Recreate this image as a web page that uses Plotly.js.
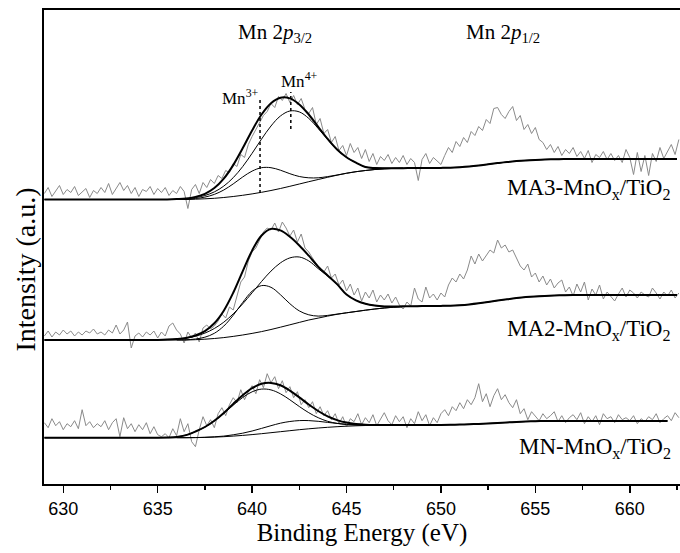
<!DOCTYPE html>
<html>
<head>
<meta charset="utf-8">
<script src="https://cdn.plot.ly/plotly-3.0.1.min.js"></script>
<style>html,body{margin:0;padding:0;background:#fff;}#chart{width:680px;height:553px;}</style>
</head>
<body>
<div id="chart"></div>
<script>
// Binding energy grid of the measured spectra (eV)
const rawE = [
629.0,629.2,629.4,629.6,629.8, 630.0,630.2,630.4,630.6,630.8,
631.0,631.2,631.4,631.6,631.8, 632.0,632.2,632.4,632.6,632.8,
633.0,633.2,633.4,633.6,633.8, 634.0,634.2,634.4,634.6,634.8,
635.0,635.2,635.4,635.6,635.8, 636.0,636.2,636.4,636.6,636.8,
637.0,637.2,637.4,637.6,637.8, 638.0,638.2,638.4,638.6,638.8,
639.0,639.2,639.4,639.6,639.8, 640.0,640.2,640.4,640.6,640.8,
641.0,641.2,641.4,641.6,641.8, 642.0,642.2,642.4,642.6,642.8,
643.0,643.2,643.4,643.6,643.8, 644.0,644.2,644.4,644.6,644.8,
645.0,645.2,645.4,645.6,645.8, 646.0,646.2,646.4,646.6,646.8,
647.0,647.2,647.4,647.6,647.8, 648.0,648.2,648.4,648.6,648.8,
649.0,649.2,649.4,649.6,649.8, 650.0,650.2,650.4,650.6,650.8,
651.0,651.2,651.4,651.6,651.8, 652.0,652.2,652.4,652.6,652.8,
653.0,653.2,653.4,653.6,653.8, 654.0,654.2,654.4,654.6,654.8,
655.0,655.2,655.4,655.6,655.8, 656.0,656.2,656.4,656.6,656.8,
657.0,657.2,657.4,657.6,657.8, 658.0,658.2,658.4,658.6,658.8,
659.0,659.2,659.4,659.6,659.8, 660.0,660.2,660.4,660.6,660.8,
661.0,661.2,661.4,661.6,661.8, 662.0,662.2,662.4,662.6
];

// Raw intensities (a.u., relative to each spectrum's baseline)
const rawMA3 = [
6,12,3,9,14, 5,10,7,13,4, 8,11,2,9,6, 12,7,16,5,11,
17,9,14,6,12, 3,10,8,13,5, 11,7,12,4,9, 6,13,8,-9,10,
15,6,17,12,20, 16,24,21,29,27, 36,33,45,42,55, 63,70,78,84,88,
96,92,103,99,106, 97,104,95,101,90, 86,92,75,81,66, 70,57,63,49,54,
44,56,47,52,41, 50,38,46,35,43, 39,45,36,42,37, 44,35,41,37,19,
40,46,36,42,38, 35,44,52,47,58, 53,62,57,68,64, 73,69,80,76,91,
92,85,81,88,93, 79,84,70,75,66, 72,60,57,50,55, 47,53,44,50,46,
52,43,48,41,49, 37,45,42,48,40, 46,39,44,37,50, 42,25,47,28,44,
24,46,38,52,41, 48,55,45,60
];
const rawMA2 = [
4,9,3,8,5, 10,6,9,4,8, 5,9,7,11,6, 8,5,10,7,15,
6,10,18,-8,4, 7,3,8,5,9, 2,8,4,14,17, 10,6,-3,8,2,
7,-2,12,15,11, 14,19,26,22,33, 30,45,58,63,79, 88,92,100,108,112,
110,117,108,118,112, 104,110,98,106,92, 88,82,76,70,68, 74,62,66,55,60,
49,56,45,52,39, 48,42,50,38,45, 40,46,37,43,35, 31,38,34,52,41,
38,53,42,46,40, 47,43,55,62,58, 66,61,70,84,76, 86,79,84,90,87,
100,92,95,88,90, 82,74,70,76,63, 67,58,64,55,61, 52,57,60,48,53,
44,56,48,58,40, 51,45,55,41,48, 44,39,46,52,43, 50,47,42,48,45,
43,52,47,41,48, 44,50,42,47
];
const rawMN = [
15,10,19,12,16, 8,14,11,17,9, 28,12,16,10,14, 11,17,8,15,19,
1,20,9,14,6, 13,8,15,4,11, 3,1,4,0,9, 2,19,6,14,-4,
-9,8,21,12,18, 10,24,30,22,33, 40,35,48,38,46, 52,44,58,50,64,
55,61,49,57,45, 51,40,46,33,38, 30,36,24,31,22, 27,18,24,14,21,
11,19,16,24,13, 20,15,23,12,18, 25,17,13,22,16, 21,10,19,14,26,
17,23,12,20,15, 24,28,22,31,27, 35,29,38,33,40, 54,36,44,31,42,
49,38,43,35,30, 38,24,29,18,26, 21,17,24,19,22, 26,16,22,15,20,
23,18,25,14,21, 16,22,13,24,19, 21,15,23,18,20, 17,22,14,19,16,
21,18,24,15,19, 22,17,25,20
];

// Fit grid (eV)
const fitE = [
629,629.5,630,630.5,631,631.5,632,632.5,633,633.5,634,634.5,635,635.5,
636,636.5,637,637.5,638,638.5,639,639.5,640,640.5,641,641.5,642,642.5,
643,643.5,644,644.5,645,645.5,646,646.5,647,647.5,648,
648.5,649,649.5,650,650.5,651,651.5,652,652.5,653,653.5,654,654.5,655,655.5,
656,656.5,657,657.5,658,658.5,659,659.5,660,660.5,661,661.5,662,662.5
];
const compE = [636,636.5,637,637.5,638,638.5,639,639.5,640,640.5,641,641.5,642,642.5,643,643.5,644,644.5,645,645.5,646,646.5,647,647.5,648];

// Shirley backgrounds
const bgMA3 = [0,0,0,0,0,0,0,0,0,0,0,0,0,0,
0,0,0.3,0.7,1.2,2,3,4.2,5.6,7.2,9,11,13.2,15.5,17.8,20,22.2,24.3,26.2,27.8,29,30,30.7,31.1,31.3,
31.5,31.5,31.5,31.6,31.8,32.3,33,34,35.2,36.4,37.5,38.4,39.1,39.6,40,40.2,40.4,40.5,40.5,40.5,40.5,40.5,40.5,40.5,40.5,40.5,40.5,40.5,40.5];
const bgMA2 = [0,0,0,0,0,0,0,0,0,0,0,0,0,0,
0,0,0.3,0.8,1.5,2.4,3.6,5,6.6,8.4,10.5,12.8,15.2,17.6,20,21.9,23.9,25.7,27.2,28.5,29.8,31,32,32.8,33.4,
33.7,34,34,34.1,34.3,34.8,35.6,36.7,38,39.4,40.7,41.9,42.9,43.6,44.1,44.5,44.8,45,45,45,45,45,45,45,45,45,45,45,45];
const bgMN = [0,0,0,0,0,0,0,0,0,0,0,0,0,0,
0,0,0.1,0.3,0.6,1,1.6,2.3,3.1,4,5,6,7,8,8.9,9.7,10.4,11,11.5,11.9,12.2,12.4,12.6,12.7,12.8,
12.8,12.8,12.8,12.8,12.9,13.1,13.4,13.8,14.3,14.8,15.3,15.8,16.2,16.5,16.7,16.8,16.8,16.8,16.8,16.8,16.8,16.8,16.8,16.8,16.8,16.8,16.8,16.8];

// Fit envelopes
const envMA3 = [0,0,0,0,0,0,0,0,0,0,0,0,0,0.1,
0.4,0.9,2.6,5.7,11.5,20.9,34.4,51.2,69.0,85.0,96.3,101.8,101.1,95.1,85.0,72.7,60.6,50.0,42.2,36.8,32.5,31.5,31.3,31.3,31.3,
31.5,31.5,31.5,31.6,31.8,32.3,33,34,35.2,36.4,37.5,38.4,39.1,39.6,40,40.2,40.4,40.5,40.5,40.5,40.5,40.5,40.5,40.5,40.5,40.5,40.5,40.5,40.5];
const envMA2 = [0,0,0,0,0,0,0,0,0,0,0,0,0.1,0.4,
1.0,2.1,4.5,8.9,16.7,29.3,47.2,68.6,89.4,104.5,111.1,109.6,103.2,94.5,84.3,73.4,64.6,55.9,45.5,39.7,36.2,34.4,33.6,33.5,33.7,
33.7,34,34,34.1,34.3,34.8,35.6,36.7,38,39.4,40.7,41.9,42.9,43.6,44.1,44.5,44.8,45,45,45,45,45,45,45,45,45,45,45,45];
const envMN = [0,0,0,0,0,0,0,0,0,0,0,0,0,0.2,
0.8,2.6,6.2,10.7,17.0,24.8,33.8,42.4,49.5,53.9,54.8,52.4,47.1,40.3,33.2,26.7,21.3,17.6,15.1,13.75,13.05,12.75,12.7,12.7,12.8,
12.8,12.8,12.8,12.8,12.9,13.1,13.4,13.8,14.3,14.8,15.3,15.8,16.2,16.5,16.7,16.8,16.8,16.8,16.8,16.8,16.8,16.8,16.8,16.8,16.8,16.8,16.8,16.8];

// Fitted components (background included)
const mn3MA3 = [0.1,0.2,1.0,2.4,5.1,9.5,15.6,22.5,28.4,31.8,31.8,29.3,25.8,23.0,21.7,21.7,22.9,24.5,26.3,27.8,29,30,30.7,31.1,31.3];
const mn4MA3 = [0.3,0.7,1.9,4.0,7.6,13.4,21.8,32.9,46.2,60.4,73.5,83.5,88.5,87.6,81.1,71.0,59.9,49.8,42.1,36.8,32.5,31.5,31.3,31.3,31.3];
const mn3MA2 = [0.0,0.2,1.0,2.8,6.7,13.9,24.7,37.5,48.8,54.4,52.7,45.3,36.3,29.1,25.2,23.9,24.6,25.9,27.2,28.5,29.8,31,32,32.8,33.4];
const mn4MA2 = [1.0,1.9,3.8,6.9,11.5,17.8,26.1,36.1,47.2,58.5,68.9,77.1,82.1,83.0,79.1,71.4,63.9,55.7,45.5,39.7,36.2,34.4,33.6,33.5,33.7];
const mn3MN = [0.8,2.6,6.1,10.6,16.7,24.2,32.5,40.2,45.9,48.6,47.8,43.9,37.9,31.2,25.0,20.0,16.4,14.3,13.1,12.65,12.5,12.5,12.6,12.7,12.8];
const mn4MN = [0,0,0.15,0.4,0.9,1.6,2.9,4.5,6.7,9.3,12.0,14.5,16.2,17.1,17.1,16.4,15.3,14.3,13.5,13.0,12.75,12.65,12.7,12.7,12.8];

// Peak position markers for MA3 (eV) and their extent above baseline
const mn3MarkE = [640.42, 640.42];
const mn3MarkY = [6.5, 102.5];
const mn4MarkE = [642.05, 642.05];
const mn4MarkY = [70.5, 107.5];

// Sample labels
const sampleLabels = ['MA3-MnO<sub>x</sub>/TiO<sub>2</sub>', 'MA2-MnO<sub>x</sub>/TiO<sub>2</sub>', 'MN-MnO<sub>x</sub>/TiO<sub>2</sub>'];

// vertical stacking offsets
const offMA3 = 284.5, offMA2 = 144, offMN = 46.3;
const shift = (arr, o) => arr.map(v => v + o);

const GRAY = '#8a8a8a';
const traces = [];
function addSpectrum(raw, bg, env, c1, c2, off) {
  traces.push({x: rawE, y: shift(raw, off), mode: 'lines', line: {color: GRAY, width: 1}, hoverinfo: 'skip'});
  traces.push({x: fitE, y: shift(bg, off), mode: 'lines', line: {color: '#000', width: 1, shape: 'spline'}, hoverinfo: 'skip'});
  traces.push({x: compE, y: shift(c1, off), mode: 'lines', line: {color: '#000', width: 1, shape: 'spline'}, hoverinfo: 'skip'});
  traces.push({x: compE, y: shift(c2, off), mode: 'lines', line: {color: '#000', width: 1, shape: 'spline'}, hoverinfo: 'skip'});
  traces.push({x: fitE, y: shift(env, off), mode: 'lines', line: {color: '#000', width: 2, shape: 'spline'}, hoverinfo: 'skip'});
}
addSpectrum(rawMA3, bgMA3, envMA3, mn3MA3, mn4MA3, offMA3);
addSpectrum(rawMA2, bgMA2, envMA2, mn3MA2, mn4MA2, offMA2);
addSpectrum(rawMN, bgMN, envMN, mn3MN, mn4MN, offMN);
traces.push({x: mn3MarkE, y: shift(mn3MarkY, offMA3), mode: 'lines', line: {color: '#000', width: 1.5, dash: 'dot'}, hoverinfo: 'skip'});
traces.push({x: mn4MarkE, y: shift(mn4MarkY, offMA3), mode: 'lines', line: {color: '#000', width: 1.5, dash: 'dot'}, hoverinfo: 'skip'});

const SERIF = 'Liberation Serif, Times New Roman, serif';
const ann = (text, x, y, size, xanchor) => ({text, x, y, xref: 'x', yref: 'y', showarrow: false, xanchor: xanchor || 'center', yanchor: 'middle', font: {family: SERIF, size, color: '#000'}});

const layout = {
  width: 680, height: 553,
  margin: {l: 44, r: 0, t: 10, b: 69},
  paper_bgcolor: '#fff', plot_bgcolor: '#fff',
  showlegend: false,
  xaxis: {
    range: [628.98, 662.66], tick0: 630, dtick: 5,
    ticks: 'outside', ticklen: 7, tickwidth: 1.5, tickcolor: '#000',
    minor: {dtick: 2.5, ticks: 'outside', ticklen: 4, tickwidth: 1.5, tickcolor: '#000'},
    ticklabelstandoff: 0,
    tickfont: {family: 'Liberation Sans, Arial, sans-serif', size: 18, color: '#000'},
    showline: true, linewidth: 2, linecolor: '#000', mirror: true,
    showgrid: false, zeroline: false,
    title: {text: 'Binding Energy (eV)', font: {family: SERIF, size: 25, color: '#000'}, standoff: 4}
  },
  yaxis: {
    range: [0, 474], showticklabels: false, ticks: '',
    showline: true, linewidth: 2, linecolor: '#000',
    showgrid: false, zeroline: false
  },
  annotations: [
    {text: 'Intensity (a.u.)', xref: 'paper', yref: 'paper', x: -0.0283, y: 0.4525, textangle: -90,
     showarrow: false, xanchor: 'center', yanchor: 'middle', font: {family: SERIF, size: 28, color: '#000'}},
    ann('Mn 2<i>p</i><sub>3/2</sub>', 641.19, 451, 21),
    ann('Mn 2<i>p</i><sub>1/2</sub>', 653.29, 451, 21),
    ann('Mn<sup>3+</sup>', 639.37, 387, 17),
    ann('Mn<sup>4+</sup>', 642.53, 404, 17),
    ann(sampleLabels[0], 662.3, 295, 23, 'right'),
    ann(sampleLabels[1], 662.3, 154, 23, 'right'),
    ann(sampleLabels[2], 662.3, 36, 23, 'right')
  ]
};
Plotly.newPlot('chart', traces, layout, {displayModeBar: false, staticPlot: true});
</script>
</body>
</html>
